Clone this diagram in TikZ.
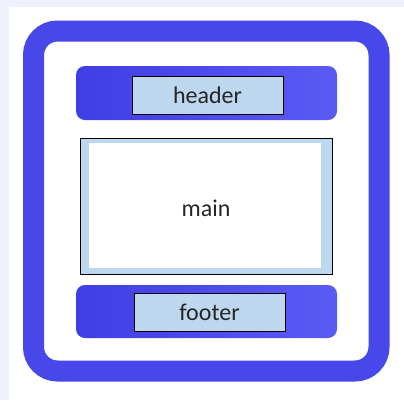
\documentclass[tikz,border=0pt]{standalone}
\usepackage{fontspec}
\setmainfont{Carlito}
\begin{document}
\begin{tikzpicture}[x=1pt,y=-1pt,
  frame/.style={draw=frameblue, line width=21pt, rounded corners=24pt},
  bar/.style={left color=barleft, right color=barright, draw=none, rounded corners=9pt},
  labeltext/.style={font=\fontsize{24}{28}\selectfont, text=black!85},
  labelbox/.style={labeltext, fill=lightblue, draw=black, line width=0.8pt, inner sep=0pt},
]
\definecolor{bg}{HTML}{EEF0FC}
\definecolor{frameblue}{HTML}{4848EA}
\definecolor{barleft}{HTML}{3E3EE4}
\definecolor{barright}{HTML}{5A5AF4}
\definecolor{lightblue}{HTML}{BDD7EE}
\useasboundingbox (0,0) rectangle (404,400);
\fill[bg] (0,0) rectangle (404,400);
\fill[white] (9,7) rectangle (404,400);
% outer frame
\draw[frame] (33.5,31) rectangle (379,371);
% header bar
\path[bar] (76,66) rectangle (337,120);
\node[labelbox, minimum width=151pt, minimum height=38pt] (header) at (207.5,95) {header};
% main
\node[draw=black, line width=0.8pt, fill=lightblue, minimum width=252pt, minimum height=136pt, inner sep=0pt] (mainframe) at (206,206) {};
\fill[white] (89,143) rectangle (321,268);
\node[labeltext] (main) at (206,208) {main};
% footer bar
\path[bar] (76,285) rectangle (337,338);
\node[labelbox, minimum width=151pt, minimum height=38pt] (footer) at (209.5,312) {footer};
\end{tikzpicture}
\end{document}
